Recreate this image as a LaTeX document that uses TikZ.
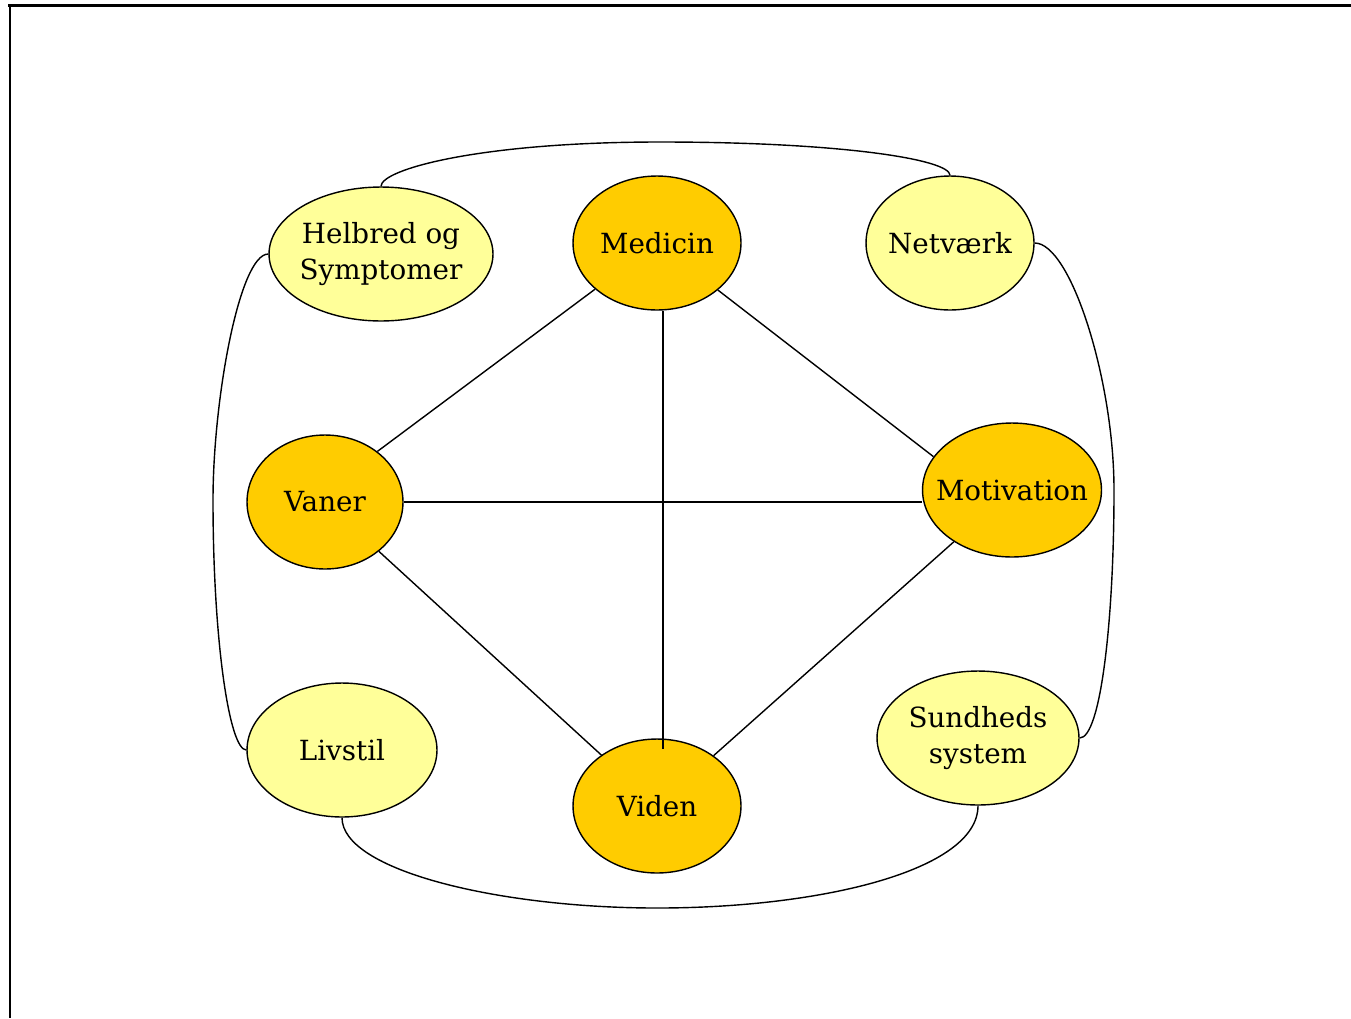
\documentclass[tikz,border=0pt]{standalone}
\usepackage{fontspec}
\setmainfont{DejaVu Serif}
\usetikzlibrary{shapes.geometric}
\definecolor{lightyel}{HTML}{FFFF99}
\definecolor{darkyel}{HTML}{FFCC00}
\begin{document}
\begin{tikzpicture}[x=0.02cm,y=-0.02cm,
  bubble/.style={ellipse,draw=black,line width=0.8pt,inner xsep=-0.3cm,inner ysep=0pt,
    minimum height=2.68cm,align=center,font=\fontsize{15.8}{20.5}\selectfont},
  light/.style={bubble,fill=lightyel},
  dark/.style={bubble,fill=darkyel},
  link/.style={draw=black,line width=0.8pt}]
\useasboundingbox (0,0) rectangle (1351,1018);
\draw[line width=0.06cm] (8,5) -- (1351,5);
\draw[line width=0.06cm] (10,5) -- (10,1018);
\node[light,minimum width=4.48cm] (helb) at (381,254) {Helbred og\\Symptomer};
\node[dark,minimum width=3.36cm] (med) at (657,243) {Medicin};
\node[light,minimum width=3.36cm] (net) at (950,243) {Netværk};
\node[dark,minimum width=3.12cm] (vaner) at (325,502) {Vaner};
\node[dark,minimum width=3.58cm] (mot) at (1012,490) {Motivation};
\node[light,minimum width=3.8cm] (liv) at (342,750) {Livstil};
\node[dark,minimum width=3.36cm] (vid) at (657,806) {Viden};
\node[light,minimum width=4.04cm] (sund) at (978,738) {Sundheds\\system};
% straight connectors
\path[link] (med) -- (vaner.44);
\path[link] (med) -- (mot.157);
\path[link] ([xshift=0.12cm]med.south) -- ([xshift=0.12cm,yshift=-0.22cm]vid.north);
\path[link] (vaner.east) -- (vaner.east -| mot.west);
\path[link] (vaner) -- (vid);
\path[link] (mot) -- (vid);
% outer curves
\path[link] (helb.north) .. controls +(0,-17) and +(-180,0) .. (660,142)
  .. controls +(180,0) and +(0,-16) .. (net.north);
\path[link] (helb.west) .. controls +(-29,0) and +(0,-100) .. (213,500)
  .. controls +(0,140) and +(-17,0) .. (liv.west);
\path[link] (net.east) .. controls +(36,0) and +(0,-110) .. (1114,490)
  .. controls +(0,130) and +(21,0) .. (sund.east);
\path[link] (liv.south) .. controls +(0,53) and +(-157,0) .. (657,908)
  .. controls +(163,0) and +(0,65) .. (sund.south);
\end{tikzpicture}
\end{document}
